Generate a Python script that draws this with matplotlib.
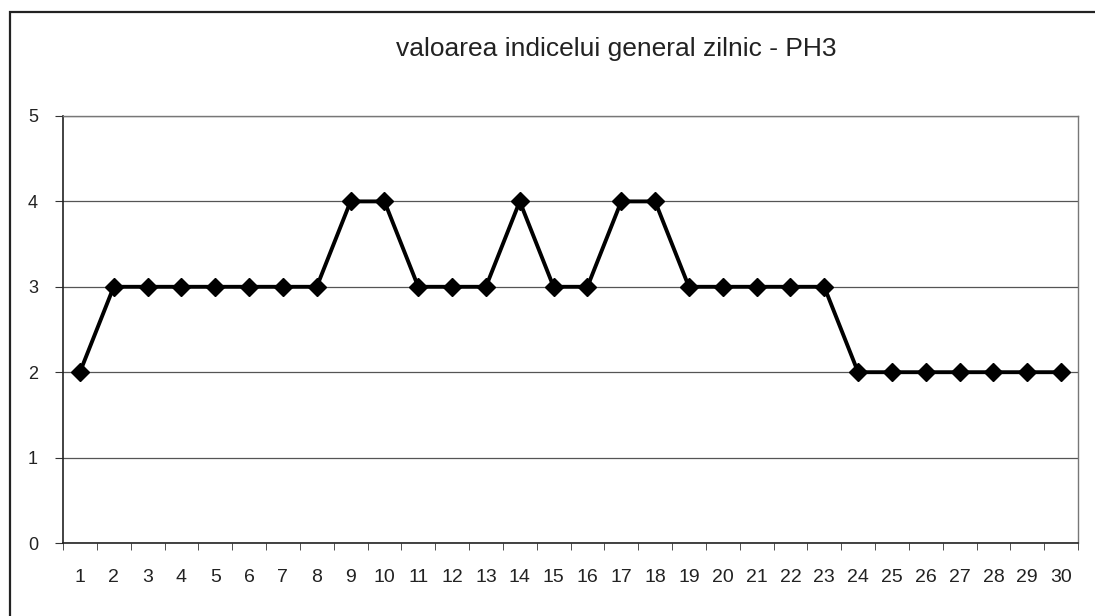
import matplotlib.pyplot as plt
from matplotlib.patches import Rectangle

# daily general index values - PH3
days = list(range(1, 31))
values = [2, 3, 3, 3, 3, 3, 3, 3, 4, 4, 3, 3, 3, 4, 3, 3, 4, 4, 3, 3,
          3, 3, 3, 2, 2, 2, 2, 2, 2, 2]
title = "valoarea indicelui general zilnic - PH3"

plt.rcParams['font.family'] = ['Liberation Sans', 'DejaVu Sans']

fig = plt.figure(figsize=(10.95, 6.16), dpi=100)
fig.patch.set_facecolor('white')

# outer chart frame
fig.patches.append(Rectangle((10 / 1095, -0.05), 1.2, 1 - 12 / 616 + 0.05,
                             transform=fig.transFigure, fill=False,
                             edgecolor='#222222', linewidth=1.6))

ax = fig.add_axes([63 / 1095, 1 - 543 / 616, (1078 - 63) / 1095, (543 - 116) / 616])
ax.plot(days, values, color='black', linewidth=2.8, marker='D', markersize=9,
        markerfacecolor='black', markeredgecolor='black')

ax.set_xlim(0.5, 30.5)
ax.set_ylim(0, 5)
ax.set_yticks(range(0, 6))
ax.set_xticks(days)
ax.set_xticks([d + 0.5 for d in range(0, 31)], minor=True)
ax.tick_params(axis='x', which='major', length=0, pad=19, labelsize=14, colors='#222222')
ax.tick_params(axis='x', which='minor', length=5, direction='out', color='#333333')
ax.tick_params(axis='y', length=6, direction='out', pad=12, labelsize=13,
               color='#333333', labelcolor='#222222')

ax.yaxis.grid(True, color='#555555', linewidth=0.9)
ax.set_axisbelow(True)
for side in ['left', 'bottom']:
    ax.spines[side].set_color('#222222')
    ax.spines[side].set_linewidth(1.2)
for side in ['top', 'right']:
    ax.spines[side].set_color('#777777')
    ax.spines[side].set_linewidth(1.0)

fig.text(616 / 1095, 1 - 49 / 616, title, ha='center', va='center',
         fontsize=19, color='#222222')

plt.savefig("out.png", dpi=100)
